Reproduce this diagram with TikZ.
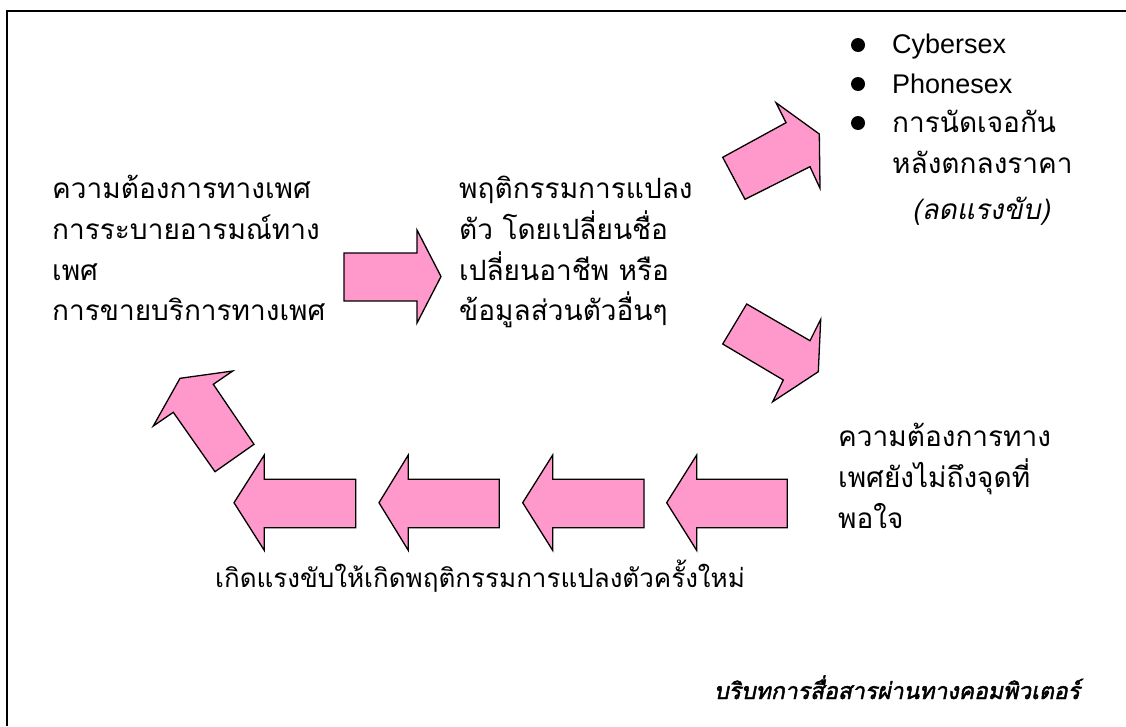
\documentclass[tikz,border=0pt]{standalone}
\usepackage{fontspec}
\setmainfont{Liberation Sans}
\newfontfamily\thai[Script=Thai]{Loma}
\newfontfamily\thaiit[Script=Thai,FakeSlant=0.2]{Loma}
\newfontfamily\thaibi[Script=Thai,FakeSlant=0.2,FakeBold=2]{Loma}
\definecolor{arrowpink}{HTML}{FF99CC}
\begin{document}
\begin{tikzpicture}[x=1pt,y=-1pt,
  blockarrow/.style={fill=arrowpink,draw=black,line width=1.3pt,line join=miter},
  frame/.style={draw=black,line width=1.5pt},
  thaitxt/.style={anchor=base west,inner sep=0pt,font=\thai\fontsize{28}{34}\selectfont},
  thaismall/.style={anchor=base west,inner sep=0pt,font=\thai\fontsize{26}{32}\selectfont},
  thaiital/.style={anchor=base west,inner sep=0pt,font=\thaiit\fontsize{28}{34}\selectfont},
  thaititle/.style={anchor=base west,inner sep=0pt,font=\thaibi\fontsize{23}{28}\selectfont},
  latintxt/.style={anchor=base west,inner sep=0pt,font=\fontsize{27}{32}\selectfont},
  bulletdot/.style={circle,fill=black,inner sep=0pt,minimum size=14pt}]
\useasboundingbox (0,0) rectangle (1126,726);
\fill[white] (0,0) rectangle (1126,726);
% frame
\draw[frame] (7,726) -- (7,11) -- (1126,11);

% left text
\node[thaitxt] (l1) at (52,198) {ความต้องการทางเพศ};
\node[thaitxt] (l2) at (52,239) {การระบายอารมณ์ทาง};
\node[thaitxt] (l3) at (52,280) {เพศ};
\node[thaitxt] (l4) at (52,320) {การขายบริการทางเพศ};

% middle text
\node[thaitxt] (m1) at (459,198) {พฤติกรรมการแปลง};
\node[thaitxt] (m2) at (459,239) {ตัว โดยเปลี่ยนชื่อ};
\node[thaitxt] (m3) at (459,280) {เปลี่ยนอาชีพ หรือ};
\node[thaitxt] (m4) at (459,320) {ข้อมูลส่วนตัวอื่นๆ};

% bullet list
\node[bulletdot] (b1) at (858,45) {};
\node[bulletdot] (b2) at (858,84) {};
\node[bulletdot] (b3) at (858,123) {};
\node[latintxt] (t1) at (892,53) {Cybersex};
\node[latintxt] (t2) at (892,93) {Phonesex};
\node[thaitxt] (t3) at (892,132) {การนัดเจอกัน};
\node[thaitxt] (t4) at (892,173) {หลังตกลงราคา};
\node[thaiital] (t5) at (912,219) {(ลดแรงขับ)};

% right lower text
\node[thaitxt] (r1) at (838,446) {ความต้องการทาง};
\node[thaitxt] (r2) at (838,487) {เพศยังไม่ถึงจุดที่};
\node[thaitxt] (r3) at (838,528) {พอใจ};

% bottom text
\node[thaismall] (bt) at (215,587) {เกิดแรงขับให้เกิดพฤติกรรมการแปลงตัวครั้งใหม่};
\node[thaititle] (ct) at (714,699) {บริบทการสื่อสารผ่านทางคอมพิวเตอร์};

% arrows
\draw[blockarrow] (344,253) -- (417,253) -- (417,230) -- (441,276.5) -- (417,323) -- (417,301) -- (344,301) -- cycle;
\draw[blockarrow] (722.7,157.3) -- (786,122.7) -- (776,102.7) -- (819.3,134) -- (820,188.3) -- (810,166.7) -- (745,199.3) -- cycle;
\draw[blockarrow] (746.7,304) -- (810,340.7) -- (820.7,319.3) -- (818.3,371.7) -- (772.7,401.7) -- (783.3,380) -- (722.7,344) -- cycle;
\draw[blockarrow] (215,471.7) -- (254,444.3) -- (213.3,384.3) -- (232.7,371) -- (180,378.3) -- (153.3,426) -- (173.3,412.3) -- cycle;
\foreach \t/\b/\r in {234/264.3/355.7, 379/408.3/499.3, 522.7/552.7/644, 666.7/696.7/787.3}{
  \draw[blockarrow] (\r,479.3) -- (\b,479.3) -- (\b,455) -- (\t,502.7) -- (\b,550.4) -- (\b,527.7) -- (\r,527.7) -- cycle;
}
\end{tikzpicture}
\end{document}
